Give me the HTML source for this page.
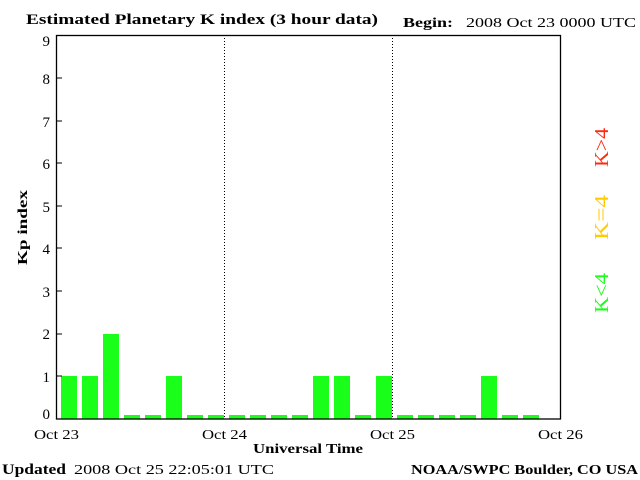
<!DOCTYPE html>
<html><head><meta charset="utf-8"><style>
html,body{margin:0;padding:0;background:#fff;}
svg{display:block;}
text{font-family:"Liberation Serif",serif;}
</style></head><body>
<svg width="640" height="480" xmlns="http://www.w3.org/2000/svg">
<rect width="640" height="480" fill="#fff"/>
<text x="26" y="24" font-size="15" font-weight="bold" textLength="352" lengthAdjust="spacingAndGlyphs">Estimated Planetary K index (3 hour data)</text>
<text x="403" y="27" font-size="14" font-weight="bold" textLength="50" lengthAdjust="spacingAndGlyphs">Begin:</text>
<text x="466" y="27" font-size="14" font-family="Liberation Sans, sans-serif" textLength="170" lengthAdjust="spacingAndGlyphs">2008 Oct 23 0000 UTC</text>
<g fill="#1aff1a">
<rect x="61" y="376" width="16" height="43"/>
<rect x="82" y="376" width="16" height="43"/>
<rect x="103" y="334" width="16" height="85"/>
<rect x="124" y="415" width="16" height="4"/>
<rect x="145" y="415" width="16" height="4"/>
<rect x="166" y="376" width="16" height="43"/>
<rect x="187" y="415" width="16" height="4"/>
<rect x="208" y="415" width="16" height="4"/>
<rect x="229" y="415" width="16" height="4"/>
<rect x="250" y="415" width="16" height="4"/>
<rect x="271" y="415" width="16" height="4"/>
<rect x="292" y="415" width="16" height="4"/>
<rect x="313" y="376" width="16" height="43"/>
<rect x="334" y="376" width="16" height="43"/>
<rect x="355" y="415" width="16" height="4"/>
<rect x="376" y="376" width="16" height="43"/>
<rect x="397" y="415" width="16" height="4"/>
<rect x="418" y="415" width="16" height="4"/>
<rect x="439" y="415" width="16" height="4"/>
<rect x="460" y="415" width="16" height="4"/>
<rect x="481" y="376" width="16" height="43"/>
<rect x="502" y="415" width="16" height="4"/>
<rect x="523" y="415" width="16" height="4"/>
</g>
<line x1="224.5" y1="35" x2="224.5" y2="419" stroke="#000" stroke-dasharray="1,2"/>
<line x1="392.5" y1="35" x2="392.5" y2="419" stroke="#000" stroke-dasharray="1,2"/>
<rect x="56.5" y="35.5" width="504" height="383.5" fill="none" stroke="#000" stroke-width="1.3"/>
<g stroke="#000">
<line x1="56" y1="78" x2="62" y2="78"/><line x1="56" y1="121" x2="62" y2="121"/>
<line x1="56" y1="163" x2="62" y2="163"/><line x1="56" y1="206" x2="62" y2="206"/>
<line x1="56" y1="248" x2="62" y2="248"/><line x1="56" y1="291" x2="62" y2="291"/>
<line x1="56" y1="334" x2="62" y2="334"/><line x1="56" y1="376" x2="62" y2="376"/>
</g>
<g font-size="15" font-family="Liberation Sans, sans-serif" text-anchor="end">
<text x="50" y="46">9</text><text x="50" y="84">8</text><text x="50" y="127">7</text>
<text x="50" y="169">6</text><text x="50" y="212">5</text><text x="50" y="254">4</text>
<text x="50" y="297">3</text><text x="50" y="339">2</text><text x="50" y="382">1</text>
<text x="50" y="419">0</text>
</g>
<g font-size="14" font-family="Liberation Sans, sans-serif">
<text x="34" y="439" textLength="45" lengthAdjust="spacingAndGlyphs">Oct 23</text>
<text x="202" y="439" textLength="45" lengthAdjust="spacingAndGlyphs">Oct 24</text>
<text x="370" y="439" textLength="45" lengthAdjust="spacingAndGlyphs">Oct 25</text>
<text x="538" y="439" textLength="45" lengthAdjust="spacingAndGlyphs">Oct 26</text>
</g>
<text x="253" y="453" font-size="14" font-weight="bold" textLength="110" lengthAdjust="spacingAndGlyphs">Universal Time</text>
<text transform="translate(27,265) rotate(-90)" font-size="14" font-weight="bold" textLength="75" lengthAdjust="spacingAndGlyphs">Kp index</text>
<g font-size="20">
<text transform="translate(608,167) rotate(-90)" fill="#ff2a10" textLength="39" lengthAdjust="spacingAndGlyphs">K&gt;4</text>
<text transform="translate(608,240) rotate(-90)" fill="#ffcc00" textLength="45" lengthAdjust="spacingAndGlyphs">K=4</text>
<text transform="translate(608,313) rotate(-90)" fill="#1aff1a" textLength="40" lengthAdjust="spacingAndGlyphs">K&lt;4</text>
</g>
<text x="2" y="474" font-size="15" font-weight="bold" textLength="64" lengthAdjust="spacingAndGlyphs">Updated</text>
<text x="74" y="474" font-size="14" font-family="Liberation Sans, sans-serif" textLength="200" lengthAdjust="spacingAndGlyphs">2008 Oct 25 22:05:01 UTC</text>
<text x="411" y="474" font-size="14" font-weight="bold" textLength="227" lengthAdjust="spacingAndGlyphs">NOAA/SWPC Boulder, CO USA</text>
</svg>
</body></html>
